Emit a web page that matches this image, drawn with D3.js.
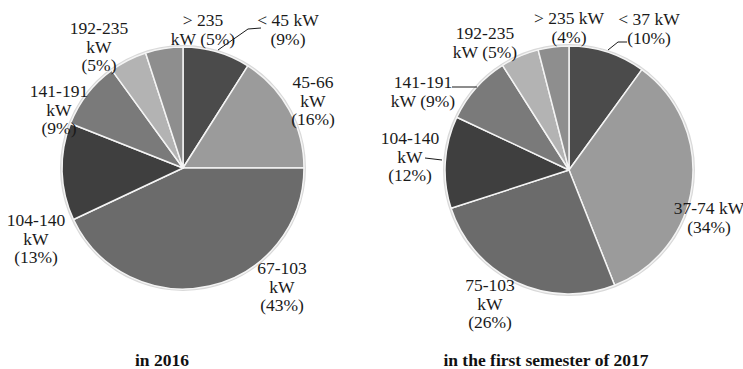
<!DOCTYPE html>
<html>
<head>
<meta charset="utf-8">
<script src="https://cdn.jsdelivr.net/npm/d3@7/dist/d3.min.js"></script>
<style>
  html, body { margin: 0; padding: 0; background: #fff; }
  svg { display: block; }
</style>
</head>
<body>
<svg id="chart" width="743" height="369"></svg>
<script>
// Power classes and their shares (%), clockwise from 12 o'clock
const classes2016 = ["< 45 kW", "45-66 kW", "67-103 kW", "104-140 kW", "141-191 kW", "192-235 kW", "> 235 kW"];
const shares2016 = [9, 16, 43, 13, 9, 5, 5];

const classes2017 = ["< 37 kW", "37-74 kW", "75-103 kW", "104-140 kW", "141-191 kW", "192-235 kW", "> 235 kW"];
const shares2017 = [10, 34, 26, 12, 9, 5, 4];

const titles = ["in 2016", "in the first semester of 2017"];

// Slice fills by position in the class order
const greys = ["#4b4b4b", "#9b9b9b", "#6b6b6b", "#3f3f3f", "#7a7a7a", "#b3b3b3", "#8e8e8e"];

const serif = "'Liberation Serif', 'Times New Roman', Times, 'DejaVu Serif', serif";

// Layout: pie placement, label blocks (lines split at the given breaks) and leader lines
const layout = [
  {
    cx: 183, cy: 168, r: 121, titleX: 162,
    labels: [
      { x: 288, y: 20, split: ["< 45 kW", "{p}"] },
      { x: 313, y: 82, split: ["45-66", "kW", "{p}"] },
      { x: 282, y: 268, split: ["67-103", "kW", "{p}"] },
      { x: 36,  y: 220, split: ["104-140", "kW", "{p}"] },
      { x: 59,  y: 91,  split: ["141-191", "kW", "{p}"] },
      { x: 99,  y: 28,  split: ["192-235", "kW", "{p}"] },
      { x: 203, y: 20,  split: ["> 235", "kW {p}"] }
    ],
    leaders: [ [[261, 28], [248, 29], [218, 50]] ]
  },
  {
    cx: 569, cy: 170, r: 124, titleX: 546,
    labels: [
      { x: 649, y: 19, split: ["< 37 kW", "{p}"] },
      { x: 709, y: 208, split: ["37-74 kW", "{p}"] },
      { x: 490, y: 285, split: ["75-103", "kW", "{p}"] },
      { x: 410, y: 138, split: ["104-140", "kW", "{p}"] },
      { x: 423, y: 82,  split: ["141-191", "kW {p}"] },
      { x: 485, y: 33,  split: ["192-235", "kW {p}"] },
      { x: 569, y: 18,  split: ["> 235 kW", "{p}"] }
    ],
    leaders: [
      [[627, 42], [618, 42], [608, 50]],
      [[452, 87], [477, 87]],
      [[425, 158], [442, 160]]
    ]
  }
];

const datasets = [
  { classes: classes2016, shares: shares2016 },
  { classes: classes2017, shares: shares2017 }
];

const svg = d3.select("#chart");
const lineH = 18.5;

const pie = d3.pie().sort(null).value(d => d.share);

datasets.forEach((ds, i) => {
  const L = layout[i];
  const rows = ds.classes.map((c, k) => ({ cls: c, share: ds.shares[k], k }));
  const arc = d3.arc().innerRadius(0).outerRadius(L.r);

  const g = svg.append("g").attr("transform", `translate(${L.cx},${L.cy})`);

  // soft rim around the disc
  g.append("circle")
    .attr("r", L.r + 1)
    .attr("fill", "none")
    .attr("stroke", "#d9d9d9")
    .attr("stroke-width", 2);

  g.selectAll("path.slice")
    .data(pie(rows))
    .join("path")
    .attr("class", "slice")
    .attr("d", arc)
    .attr("fill", d => greys[d.data.k])
    .attr("stroke", "#f4f4f4")
    .attr("stroke-width", 1.5)
    .attr("stroke-linejoin", "round");

  // leader lines
  const line = d3.line();
  L.leaders.forEach(pts => {
    svg.append("path")
      .attr("d", line(pts))
      .attr("fill", "none")
      .attr("stroke", "#1a1a1a")
      .attr("stroke-width", 1);
  });

  // slice labels
  rows.forEach((row, k) => {
    const spec = L.labels[k];
    const t = svg.append("text")
      .attr("text-anchor", "middle")
      .attr("font-family", serif)
      .attr("font-size", 17.5)
      .attr("fill", "#1a1a1a");
    spec.split.forEach((s, j) => {
      t.append("tspan")
        .attr("x", spec.x)
        .attr("y", spec.y + j * lineH)
        .attr("dy", "0.35em")
        .text(s.replace("{p}", `(${row.share}%)`));
    });
  });

  // panel title
  svg.append("text")
    .attr("x", L.titleX)
    .attr("y", 360)
    .attr("dy", "0.35em")
    .attr("text-anchor", "middle")
    .attr("font-family", serif)
    .attr("font-size", 17.5)
    .attr("font-weight", "bold")
    .attr("fill", "#111")
    .text(titles[i]);
});
</script>
</body>
</html>
